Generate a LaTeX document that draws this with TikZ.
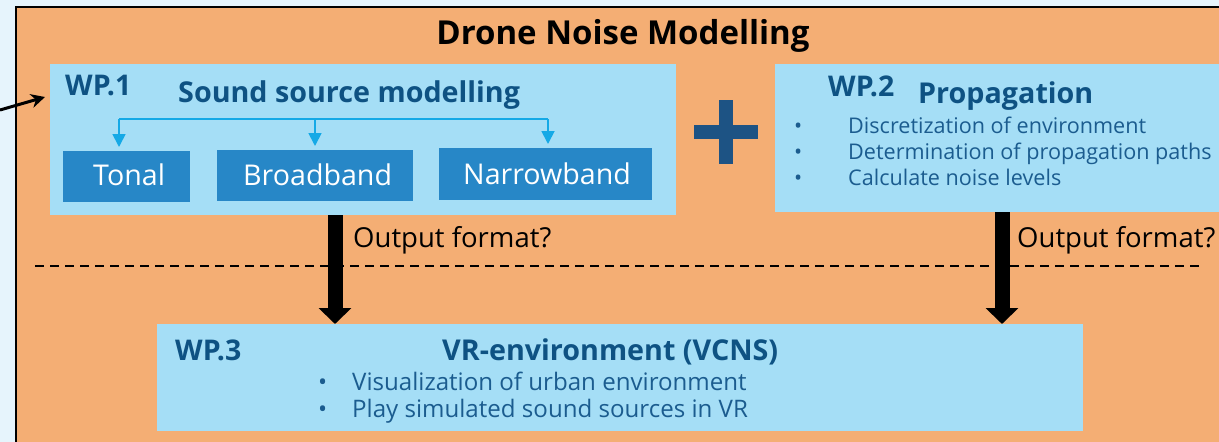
\documentclass[tikz,border=0pt]{standalone}
\usepackage{fontspec}
\setmainfont{Open Sans}
\usetikzlibrary{arrows.meta}
\definecolor{bgblue}{HTML}{E6F4FC}
\definecolor{panelorange}{HTML}{F4AE74}
\definecolor{lightbox}{HTML}{A5DEF6}
\definecolor{darkbox}{HTML}{2787C7}
\definecolor{headblue}{HTML}{0E5283}
\definecolor{bulletblue}{HTML}{1B5C8F}
\definecolor{cyanline}{HTML}{15A9E6}
\definecolor{plusblue}{HTML}{1D5384}
\tikzset{
  lbox/.style={fill=lightbox, draw=none, inner sep=0pt, anchor=north west},
  dbox/.style={fill=darkbox, draw=none, inner sep=0pt, anchor=north west},
  boxtext/.style={text=white, font=\fontsize{28.6}{33}\selectfont, inner sep=0pt, anchor=base west},
  headtext/.style={text=headblue, font=\fontsize{28.7}{33}\bfseries\selectfont, inner sep=0pt, anchor=base west},
  wptext/.style={text=headblue, font=\fontsize{28.5}{33}\bfseries\selectfont, inner sep=0pt, anchor=base west},
  bullettext/.style={text=bulletblue, font=\fontsize{21.6}{26}\selectfont, inner sep=0pt, anchor=base west},
  bullettextb/.style={text=bulletblue, font=\fontsize{24.1}{28}\selectfont, inner sep=0pt, anchor=base west},
  outtext/.style={text=black, font=\fontsize{27.5}{32}\selectfont, inner sep=0pt, anchor=base west},
  subarrow/.style={draw=cyanline, line width=1.8pt, -{Triangle[width=13pt,length=13pt]}},
  bigarrow/.style={draw=black, line width=15pt, -{Triangle[width=32pt,length=16pt]}},
  plussign/.style={minimum width=64pt, minimum height=64pt, inner sep=0pt,
    path picture={
      \fill[plusblue] ([yshift=-7pt]path picture bounding box.west) rectangle ([yshift=7pt]path picture bounding box.east);
      \fill[plusblue] ([xshift=-7pt]path picture bounding box.south) rectangle ([xshift=7pt]path picture bounding box.north);
    }},
}
\begin{document}
\begin{tikzpicture}[x=1pt,y=-1pt]
\useasboundingbox (0,0) rectangle (1219,442);
\begin{scope}
\clip (0,0) rectangle (1219,442);
\fill[bgblue] (0,0) rectangle (1219,442);
% orange panel
\node[fill=panelorange, draw=black, line width=2pt, inner sep=0pt, anchor=north west,
      minimum width=1230pt, minimum height=460pt] (panel) at (15,6) {};
\node[text=black, font=\fontsize{33}{38}\bfseries\selectfont, inner sep=0pt, anchor=base] (title) at (623,44) {Drone Noise Modelling};

% WP.1
\node[lbox, minimum width=626pt, minimum height=151pt] (wp1) at (50,64) {};
\node[wptext] (wp1label) at (65,95) {WP.1};
\node[headtext] (wp1title) at (178,102) {Sound source modelling};
\node[dbox, minimum width=127pt, minimum height=51pt] (tonal) at (63,151) {};
\node[dbox, minimum width=196pt, minimum height=51pt] (broadband) at (217,150) {};
\node[dbox, minimum width=213pt, minimum height=52pt] (narrowband) at (439,148) {};
\node[boxtext] (tonaltext) at (93,185) {Tonal};
\node[boxtext] (broadtext) at (243,185) {Broadband};
\node[boxtext] (narrowtext) at (463,184) {Narrowband};
\coordinate (hubl) at (119,119);
\coordinate (hubm) at (315,119);
\coordinate (hubr) at (548,119);
\draw[cyanline, line width=1.8pt] (hubl) -- (hubr);
\draw[subarrow] (hubl) -- ([yshift=4pt]tonal.north -| hubl);
\draw[subarrow] (hubm) -- ([yshift=4pt]broadband.north -| hubm);
\draw[subarrow] (hubr) -- ([yshift=4pt]narrowband.north -| hubr);

% plus
\node[plussign] (plus) at (726,132) {};

% WP.2
\node[lbox, minimum width=460pt, minimum height=148pt] (wp2) at (775,64) {};
\node[wptext] (wp2label) at (828,96) {WP.2};
\node[headtext] (wp2title) at (918,103) {Propagation};
\node[bullettext] (b21) at (794,133) {\textbullet};
\node[bullettext] (t21) at (848,133) {Discretization of environment};
\node[bullettext] (b22) at (794,159) {\textbullet};
\node[bullettext] (t22) at (848,159) {Determination of propagation paths};
\node[bullettext] (b23) at (794,185) {\textbullet};
\node[bullettext] (t23) at (848,185) {Calculate noise levels};

% dashed separator
\coordinate (dashl) at (35,266);
\coordinate (dashr) at (1202,266);
\draw[black, line width=1.5pt, dash pattern=on 9pt off 6pt] (dashl) -- (dashr);

% WP.3
\node[lbox, minimum width=926pt, minimum height=107pt] (wp3) at (157,324) {};
\node[wptext] (wp3label) at (175,360) {WP.3};
\node[headtext] (wp3title) at (442,360) {VR-environment (VCNS)};
\node[bullettextb] (b31) at (318,390) {\textbullet};
\node[bullettextb] (t31) at (352,390) {Visualization of urban environment};
\node[bullettextb] (b32) at (318,417) {\textbullet};
\node[bullettextb] (t32) at (352,417) {Play simulated sound sources in VR};

% big arrows
\coordinate (a1) at (335,215);
\coordinate (a2) at (1002,212);
\draw[bigarrow] (a1) -- (a1 |- wp3.north);
\draw[bigarrow] (a2) -- (a2 |- wp3.north);
\node[outtext] (out1) at (353,247) {Output format?};
\node[outtext] (out2) at (1017,247) {Output format?};

% incoming arrow
\coordinate (inc) at (0,110);
\draw[black, line width=3pt, -{Stealth[width=14pt,length=14pt]}] (inc) -- ([xshift=-5pt,yshift=-33pt]wp1.north west);
\end{scope}
\end{tikzpicture}
\end{document}
